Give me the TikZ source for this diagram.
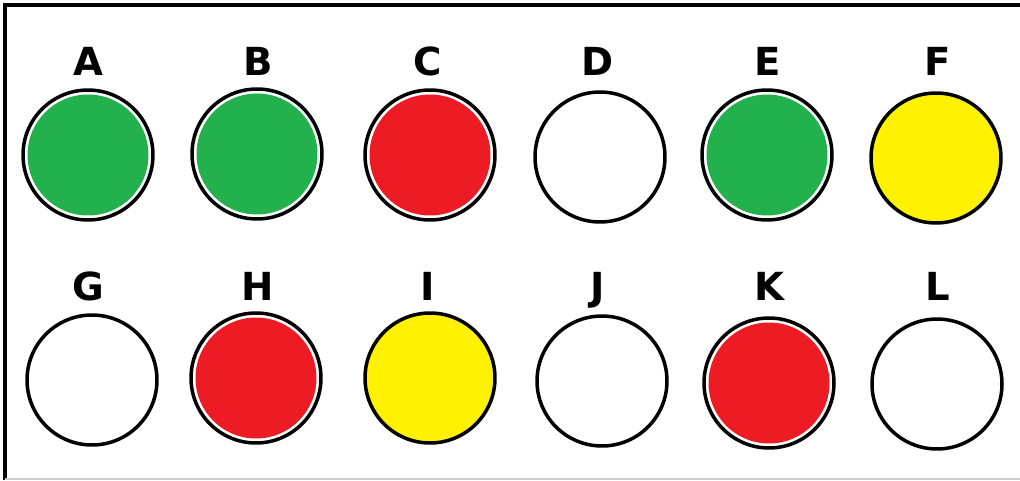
\documentclass[tikz,border=0pt]{standalone}
\usepackage{fontspec}
\setmainfont{DejaVu Sans}
\usetikzlibrary{positioning}

\definecolor{lampgreen}{HTML}{22B14C}
\definecolor{lampred}{HTML}{ED1C24}
\definecolor{lampyellow}{HTML}{FFF200}

\begin{document}
\begin{tikzpicture}[
    x=0.02cm, y=-0.02cm,
    lamp/.style={circle, draw=black, line width=0.07cm, fill=white, minimum size=2.6cm, inner sep=0pt},
    lit/.style={lamp, path picture={\fill[#1] (path picture bounding box.center) circle (1.21cm);}},
    plain/.style={lamp, fill=#1},
    tag/.style={font=\bfseries\fontsize{22}{22}\selectfont, anchor=base}
]
\useasboundingbox (0,0) rectangle (1020,480);
\draw[line width=0.065cm] (5,480) -- (5,5) -- (1020,5);
\draw[black!20, line width=0.03cm] (5,479) -- (1020,479);

% top row
\node[lit=lampgreen] (a) at (88,155) {};
\node[lit=lampgreen] (b) at (257,154) {};
\node[lit=lampred] (c) at (430,155) {};
\node[lamp] (d) at (600,157) {};
\node[lit=lampgreen] (e) at (767,155) {};
\node[plain=lampyellow] (f) at (936,158) {};

% bottom row
\node[lamp] (g) at (92,380) {};
\node[lit=lampred] (h) at (256,378) {};
\node[plain=lampyellow] (i) at (430,378) {};
\node[lamp] (j) at (602,381) {};
\node[lit=lampred] (k) at (769,383) {};
\node[lamp] (l) at (937,384) {};

% labels
\foreach \n/\t/\x in {a/A/88, b/B/258, c/C/428, d/D/598, e/E/768, f/F/938}
  \node[tag] (lbl\n) at (\x,75) {\t};
\foreach \n/\t/\x in {g/G/88, h/H/258, i/I/428, j/J/598, k/K/769, l/L/938}
  \node[tag] (lbl\n) at (\x,300) {\t};
\end{tikzpicture}
\end{document}
